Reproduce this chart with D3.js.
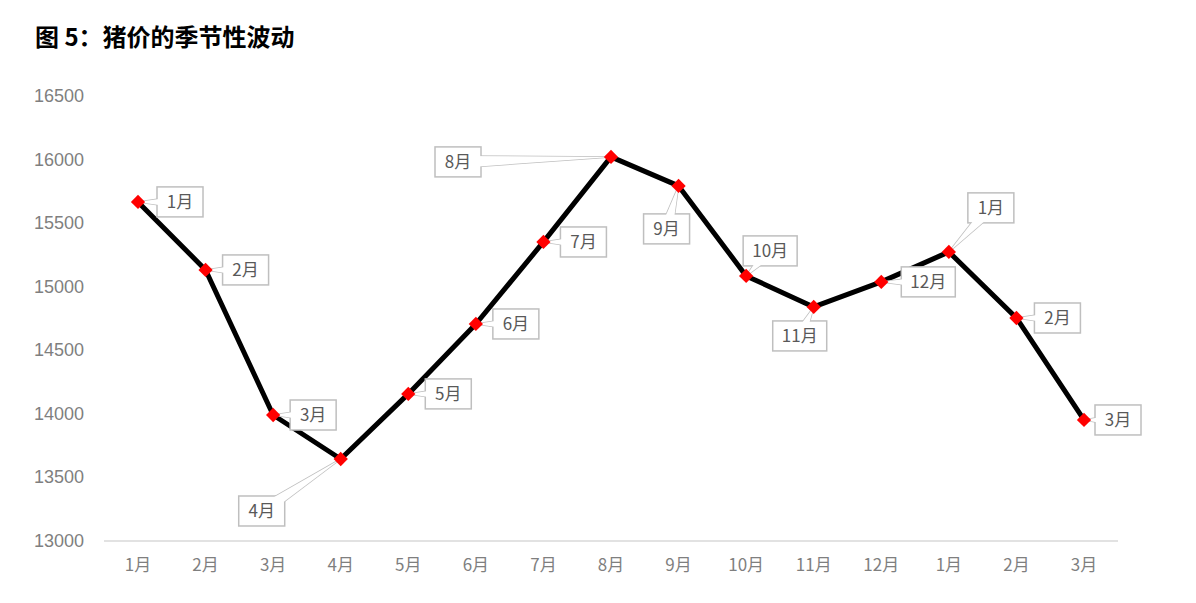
<!DOCTYPE html>
<html><head><meta charset="utf-8">
<script src="https://cdn.jsdelivr.net/npm/d3@7"></script>
<style>body{margin:0;background:#fff}svg{font-family:"Liberation Sans","Noto Sans CJK SC",sans-serif}</style>
</head><body><svg id="c" width="1196" height="603"></svg>
<script>
const categories=["1月","2月","3月","4月","5月","6月","7月","8月","9月","10月","11月","12月","1月","2月","3月"];
const values=[15667,15132,13991,13645,14157,14707,15352,16021,15793,15085,14841,15038,15274,14754,13952];
const yTicks=[13000,13500,14000,14500,15000,15500,16000,16500];
// callout box offsets relative to point (layout only)
const offX=[42,40,40,-79,40,40,40,-153,-12,24,-14,47,42,41,34];
const offY=[0,0,0,52,0,0,0,5,43,-25,29,0,-44,0,0];

const svg=d3.select("#c");
const x=d3.scalePoint().domain(d3.range(categories.length)).range([138,1084]);
const y=d3.scaleLinear().domain([13000,16500]).range([541,96]);
svg.append("text").attr("x",35).attr("y",46).attr("font-size",24).attr("font-weight","bold")
 .attr("font-family","Noto Sans CJK SC").text("图 5：猪价的季节性波动");
yTicks.forEach(t=>svg.append("text").attr("x",84).attr("y",y(t)+6).attr("text-anchor","end")
 .attr("font-size",18).attr("fill","#7f7f7f").text(t));
svg.append("line").attr("x1",104).attr("x2",1118).attr("y1",541).attr("y2",541).attr("stroke","#d9d9d9").attr("stroke-width",1.5);
categories.forEach((c,i)=>svg.append("text").attr("x",x(i)).attr("y",571).attr("text-anchor","middle")
 .attr("font-size",17).attr("fill","#7f7f7f").attr("font-family","Noto Sans CJK SC").text(c));
svg.append("path").datum(values).attr("fill","none").attr("stroke","#000").attr("stroke-width",5)
 .attr("stroke-linejoin","round").attr("d",d3.line().x((d,i)=>x(i)).y(d=>y(d)));
values.forEach((v,i)=>{
 const px=x(i),py=y(v),cx=px+offX[i],cy=py+offY[i];
 const w=categories[i].length>2?54:46,h=30;
 const ang=Math.atan2(py-cy,px-cx),perp=ang+Math.PI/2,hw=6;
 const tri=`M${px},${py}L${cx+hw*Math.cos(perp)},${cy+hw*Math.sin(perp)}L${cx-hw*Math.cos(perp)},${cy-hw*Math.sin(perp)}Z`;
 const g=svg.append("g");
 g.append("path").attr("d",tri).attr("fill","#fff").attr("stroke","#bfbfbf").attr("stroke-width",1.5);
 g.append("rect").attr("x",cx-w/2).attr("y",cy-h/2).attr("width",w).attr("height",h)
  .attr("fill","#fff").attr("stroke","#bfbfbf").attr("stroke-width",1.5);
 g.append("path").attr("d",tri).attr("fill","#fff").attr("stroke","none");
 g.append("text").attr("x",cx).attr("y",cy+6).attr("text-anchor","middle").attr("font-size",17)
  .attr("fill","#595959").attr("font-family","Noto Sans CJK SC").text(categories[i]);
});
svg.selectAll(".m").data(values).join("path").attr("class","m")
 .attr("transform",(d,i)=>`translate(${x(i)},${y(d)})`)
 .attr("d",d3.symbol(d3.symbolDiamond2,130)).attr("fill","#ff0000");
</script></body></html>
